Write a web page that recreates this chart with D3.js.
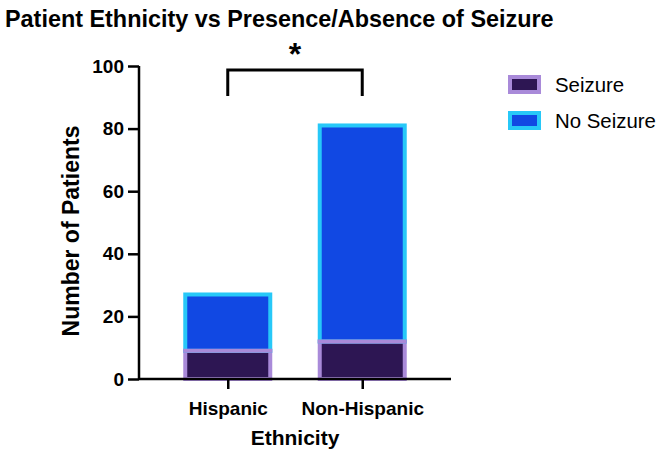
<!DOCTYPE html>
<html>
<head>
<meta charset="utf-8">
<script src="https://cdn.jsdelivr.net/npm/d3@7"></script>
<style>
  body { margin: 0; background: #fff; }
  text { font-family: "Liberation Sans", Arial, sans-serif; fill: #000; }
</style>
</head>
<body>
<div class="chart"></div>
<script>
// data
var groups = ["Hispanic", "Non-Hispanic"];
var seizure = [9, 12];
var noSeizure = [18, 69];
var seriesNames = ["Seizure", "No Seizure"];
var yTicks = [0, 20, 40, 60, 80, 100];

var fills = ["#2d1653", "#1148e3"];
var strokes = ["#a98ad9", "#27c8f8"];

var width = 661, height = 454;
var svg = d3.select("div.chart").append("svg")
    .attr("width", width)
    .attr("height", height);

var x = d3.scalePoint().domain(groups).range([139, 451]).padding(0.66);
var y = d3.scaleLinear().domain([0, 100]).range([379, 66]);
var barW = 85;

// stacked rows
var rows = groups.map(function(g, i) {
    return {"group": g, "Seizure": seizure[i], "No Seizure": noSeizure[i]};
});
var stack = d3.stack().keys(seriesNames)(rows);

svg.selectAll("g.series")
    .data(stack)
    .enter().append("g")
    .attr("class", "series")
    .each(function(s, si) {
        d3.select(this).selectAll("rect")
            .data(s)
            .enter().append("rect")
            .attr("x", function(d) { return x(d.data.group) - barW / 2; })
            .attr("y", function(d) { return y(d[1]); })
            .attr("width", barW)
            .attr("height", function(d) { return y(d[0]) - y(d[1]); })
            .attr("fill", fills[si])
            .attr("stroke", strokes[si])
            .attr("stroke-width", 4);
    });

// redraw seizure top edge over no-seizure stroke
svg.selectAll("line.sep")
    .data(rows)
    .enter().append("line")
    .attr("x1", function(d) { return x(d.group) - barW / 2 - 2; })
    .attr("x2", function(d) { return x(d.group) + barW / 2 + 2; })
    .attr("y1", function(d) { return y(d["Seizure"]); })
    .attr("y2", function(d) { return y(d["Seizure"]); })
    .attr("stroke", strokes[0])
    .attr("stroke-width", 4);

// axes
var yAxis = svg.append("g")
    .attr("transform", "translate(139,0)")
    .call(d3.axisLeft(y).tickValues(yTicks).tickSize(11).tickPadding(4));
var xAxis = svg.append("g")
    .attr("transform", "translate(0,379)")
    .call(d3.axisBottom(x).tickSize(10).tickPadding(13));

[yAxis, xAxis].forEach(function(a) {
    a.select(".domain").attr("stroke", "#000").attr("stroke-width", 2.5);
    a.selectAll(".tick line").attr("stroke", "#000").attr("stroke-width", 2.5);
    a.selectAll(".tick text")
        .attr("font-family", "Liberation Sans, Arial, sans-serif")
        .attr("font-size", 19)
        .attr("font-weight", "bold")
        .attr("fill", "#000");
});
yAxis.select(".domain").attr("d", "M0,66V379");
xAxis.select(".domain").attr("d", "M139,0H451");

// titles
svg.append("text")
    .attr("x", 5).attr("y", 27)
    .attr("font-size", 23.4).attr("font-weight", "bold")
    .text("Patient Ethnicity vs Presence/Absence of Seizure");

svg.append("text")
    .attr("transform", "translate(79,231) rotate(-90)")
    .attr("text-anchor", "middle")
    .attr("font-size", 23).attr("font-weight", "bold")
    .text("Number of Patients");

svg.append("text")
    .attr("x", 295).attr("y", 445)
    .attr("text-anchor", "middle")
    .attr("font-size", 21).attr("font-weight", "bold")
    .text("Ethnicity");

// significance bracket
var bx1 = x(groups[0]), bx2 = x(groups[1]);
svg.append("path")
    .attr("d", "M" + bx1 + ",96V70H" + bx2 + "V96")
    .attr("fill", "none")
    .attr("stroke", "#000")
    .attr("stroke-width", 3);
svg.append("text")
    .attr("x", (bx1 + bx2) / 2).attr("y", 65)
    .attr("text-anchor", "middle")
    .attr("font-size", 32).attr("font-weight", "bold")
    .text("*");

// legend
var legend = svg.selectAll("g.legend")
    .data(seriesNames)
    .enter().append("g")
    .attr("class", "legend")
    .attr("transform", function(d, i) { return "translate(510," + (77 + i * 36) + ")"; });
legend.append("rect")
    .attr("width", 29).attr("height", 15)
    .attr("fill", function(d, i) { return fills[i]; })
    .attr("stroke", function(d, i) { return strokes[i]; })
    .attr("stroke-width", 4);
legend.append("text")
    .attr("x", 45).attr("y", 15)
    .attr("font-size", 20.4)
    .text(function(d) { return d; });
</script>
</body>
</html>
